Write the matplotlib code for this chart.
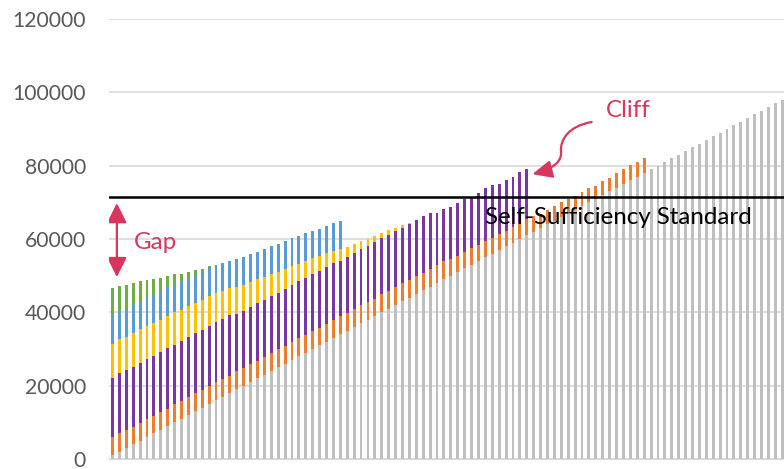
import numpy as np
import matplotlib
matplotlib.use("Agg")
import matplotlib.pyplot as plt
from matplotlib.patches import FancyArrowPatch
from matplotlib.path import Path

# -------------------------
# datos (98 barras)
# -------------------------
gray = [1000, 2000, 3000, 4000, 5000, 6000, 7000, 8000, 9000, 10000,
        11000, 12000, 13000, 14000, 15000, 16000, 17000, 18000, 19000, 20000,
        21000, 22000, 23000, 24000, 25000, 26000, 27000, 28000, 29000, 30000,
        31000, 32000, 33000, 34000, 35000, 36000, 37000, 38000, 39000, 40000,
        41000, 42000, 43000, 44000, 45000, 46000, 47000, 48000, 49000, 50000,
        51000, 52000, 53000, 54000, 55000, 56000, 57000, 58000, 59000, 60000,
        61000, 62000, 63000, 64000, 65000, 66000, 67000, 68000, 69000, 70000,
        71000, 72000, 73000, 74000, 75000, 76000, 77000, 78000, 79000, 80000,
        81000, 82000, 83000, 84000, 85000, 86000, 87000, 88000, 89000, 90000,
        91000, 92000, 93000, 94000, 95000, 96000, 97000, 98000]

orange = [5000, 5180, 4820, 4820, 4910, 4820, 4730, 4730, 4730, 5000,
          4820, 4820, 4910, 4820, 5000, 5000, 4910, 4730, 4910, 4730,
          4910, 4820, 4820, 5000, 4910, 4730, 4820, 4910, 4910, 4910,
          4820, 4910, 4910, 4910, 4730, 4820, 4910, 4820, 4730, 4910,
          4820, 4820, 4910, 4820, 4820, 4820, 4820, 4820, 4910, 4450,
          4360, 4360, 4450, 4450, 4450, 4270, 4270, 4180, 4270, 4450,
          4360, 4270, 3910, 3910, 4000, 4000, 3910, 3820, 3910, 3820,
          3550, 3730, 3640, 4090, 4090, 4180, 4090, 4090] + [0] * 20

purple = [16160, 16370, 16360, 16270, 16270, 16360, 16360, 16350, 16450, 16180,
          16350, 16450, 16450, 16360, 16180, 16360, 16180, 16450, 15540, 15540,
          15540, 15630, 15450, 15540, 15450, 15540, 15540, 15630, 15450, 15540,
          15540, 15540, 15450, 15180, 15360, 15270, 15270, 15180, 15360, 15270,
          15270, 15270, 15180, 15180, 15270, 15360, 15270, 14270, 14360, 14370,
          14460, 14460, 13910, 14180, 14370, 14370, 13820, 13910, 13730, 13910,
          13820] + [0] * 37

yellow = [9290, 9270, 9180, 9360, 9270, 9090, 9090, 8740, 8820, 8820,
          8370, 8360, 8180, 8180, 8180, 7910, 7730, 7360, 7460, 7180,
          6730, 6550, 6370, 5910, 5640, 5460, 5180, 4640, 4640, 4270,
          3910, 3640, 3460, 3180, 2820, 2640, 2180, 2000, 1640, 1360,
          1270, 820, 640, 360] + [0] * 54

blue = [7710, 7550, 7640, 7550, 7730, 7550, 7640, 7640, 7550, 7540,
        7820, 7460, 7730, 7730, 7910, 7730, 7720, 7550, 7540, 7550,
        7640, 7540, 7540, 7640, 7730, 7630, 7640, 7730, 7630, 7550,
        7550, 7540, 7540, 7640] + [0] * 64

green = [7470, 6910, 6360, 5910, 5270, 4910, 4270, 4000, 3360, 2820,
         2180, 2000, 1270, 820, 300] + [0] * 83

standard = 71500
yticks = [0, 20000, 40000, 60000, 80000, 100000, 120000]

series = [gray, orange, purple, yellow, blue, green]
colors = ["#BFBFBF", "#ED7D31", "#7538A5", "#FFC000", "#5B9BD5", "#70AD47"]
red = "#D9365E"

plt.rcParams["font.family"] = ["Lato", "DejaVu Sans"]

fig = plt.figure(figsize=(7.84, 4.69), dpi=100)
ax = fig.add_axes([109 / 784, 10 / 469, 1 - 109 / 784, 440 / 469])

x = np.arange(len(gray))
bottom = np.zeros(len(gray))
for vals, c in zip(series, colors):
    vals = np.array(vals, dtype=float)
    ax.bar(x, vals, bottom=bottom, width=0.42, color=c, linewidth=0, zorder=2)
    bottom += vals

# linea del estandar
ax.axhline(standard, color="black", lw=1.8, zorder=3)
ax.text(53.9, 64200, "Self-Sufficiency Standard", fontsize=17.4, color="black",
        ha="left", va="baseline", zorder=4)

# flecha "Gap"
gap = FancyArrowPatch((0.64, 69800), (0.64, 49600), arrowstyle="<|-|>,head_length=1.0,head_width=0.5",
                      mutation_scale=12, color=red, lw=1.6, shrinkA=0, shrinkB=0, zorder=4)
ax.add_patch(gap)
ax.text(3.15, 57400, "Gap", fontsize=17.4, color=red, ha="left", va="baseline")

# flecha curva "Cliff"
verts = [(69.4, 91900), (66.0, 90800), (64.8, 87000), (64.96, 83700),
         (65.1, 80450), (63.1, 78800), (60.8, 77700)]
codes = [Path.MOVETO, Path.CURVE4, Path.CURVE4, Path.CURVE4,
         Path.CURVE4, Path.CURVE4, Path.CURVE4]
cliff = FancyArrowPatch(path=Path(verts, codes), arrowstyle="-|>,head_length=1.0,head_width=0.45",
                        mutation_scale=12, color=red, lw=1.6, zorder=4)
ax.add_patch(cliff)
ax.text(71.4, 93350, "Cliff", fontsize=17.4, color=red, ha="left", va="baseline")

ax.set_xlim(-0.5, 97.25)
ax.set_ylim(0, 120000)
ax.set_yticks(yticks)
ax.set_yticklabels([str(v) for v in yticks])
ax.set_xticks([])
ax.tick_params(axis="y", length=0, pad=16.5, labelsize=15.2, labelcolor="#595959")
ax.grid(axis="y", color="#D9D9D9", lw=1.2)
ax.set_axisbelow(True)
for s in ["top", "right", "left"]:
    ax.spines[s].set_visible(False)
ax.spines["bottom"].set_color("#D9D9D9")

fig.savefig("out.png", dpi=100)
